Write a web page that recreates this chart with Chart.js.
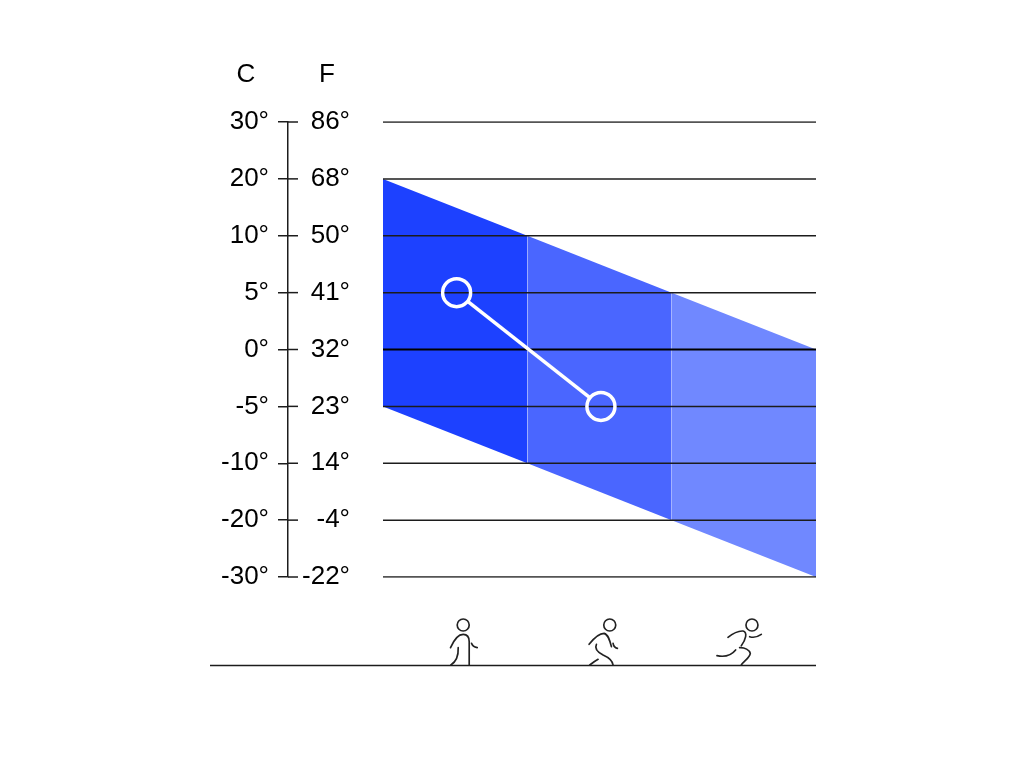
<!DOCTYPE html>
<html><head><meta charset="utf-8">
<style>html,body{margin:0;padding:0;background:#fff}canvas{display:block}</style>
<script src="https://cdn.jsdelivr.net/npm/chart.js@4"></script>
</head><body><canvas id="c" width="1024" height="768"></canvas>
<script>
const celsiusTicks = ['30°','20°','10°','5°','0°','-5°','-10°','-20°','-30°'];
const fahrenheitTicks = ['86°','68°','50°','41°','32°','23°','14°','-4°','-22°'];
const bandX = [0,1,2,3];
const upperC = ['20°','10°','5°','0°'];
const lowerC = ['-5°','-10°','-20°','-30°'];
const bandColors = ['#1d41ff','#4a66ff','#7088ff'];
const rangeX = [0.51,1.51];
const rangeC = ['5°','-5°'];
const figures = [
 {x:0.5,dx:25.3,head:[100,60],d:'M62 128C72 105 85 88 100 88C112 88 118 96 118 110L118 180M125 115C127 122 132 126 142 128M85 128C86 150 78 170 63 180'},
 {x:1.5,dx:29.75,head:[120,60],d:'M58 118C72 100 90 85 103 85C115 88 120 105 125 125M130 115C131 122 135 128 143 130M80 118C74 130 85 142 100 150C118 158 128 165 130 180M60 180C68 174 76 168 85 163'},
 {x:2.5,dx:44.2,head:[157,60],d:'M85 97C100 85 115 77 130 78C145 82 138 105 125 122M150 95C165 100 175 95 185 88M120 128C135 127 150 135 152 145C150 160 132 168 125 180M52 152C72 156 92 155 108 135'}
];

const datasets = [];
bandColors.forEach((color,i)=>{
  const n = datasets.length;
  datasets.push({data:[{x:bandX[i],y:upperC[i]},{x:bandX[i+1],y:upperC[i+1]}],borderWidth:0,pointRadius:0,backgroundColor:color,fill:{target:n+1},order:20,tension:0});
  datasets.push({data:[{x:bandX[i],y:lowerC[i]},{x:bandX[i+1],y:lowerC[i+1]}],borderWidth:0,pointRadius:0,fill:false,order:21,tension:0});
});
celsiusTicks.forEach(t=>{
  datasets.push({data:[{x:bandX[0],y:t},{x:bandX[3],y:t}],borderColor:t==='0°'?'#000':'#1c1c1c',borderWidth:t==='0°'?2.2:1.5,pointRadius:0,fill:false,order:10});
});
datasets.push({cutOut:true,data:rangeX.map((x,i)=>({x,y:rangeC[i]})),borderColor:'#fff',borderWidth:3.5,pointRadius:0,fill:false,order:2});
datasets.push({ringOf:true,data:rangeX.map((x,i)=>({x,y:rangeC[i]})),showLine:false,pointRadius:14,pointBorderWidth:3.5,pointBorderColor:'#fff',pointBackgroundColor:'rgba(0,0,0,0)',fill:false,order:1});

const FONT = '26px "Liberation Sans", Arial, sans-serif';
const cutOutPlugin = {
  id:'cutOut',
  beforeDatasetDraw(chart,args){
    if(!chart.data.datasets[args.index].cutOut) return;
    const ctx=chart.ctx; ctx.save();
    ctx.beginPath(); ctx.rect(0,0,chart.width,chart.height);
    args.meta.data.forEach(p=>{ctx.moveTo(p.x+13,p.y);ctx.arc(p.x,p.y,13,0,Math.PI*2);});
    ctx.clip('evenodd');
  },
  afterDatasetDraw(chart,args){
    if(chart.data.datasets[args.index].cutOut) chart.ctx.restore();
  }
};
const decorPlugin = {
  id:'decor',
  afterDraw(chart){
    const ctx=chart.ctx, y=chart.scales.y, x=chart.scales.x;
    ctx.save();
    ctx.strokeStyle='#1c1c1c'; ctx.lineWidth=1.5;
    const ax=y.right;
    y.ticks.forEach((t,i)=>{const py=y.getPixelForTick(i);ctx.beginPath();ctx.moveTo(ax,py);ctx.lineTo(ax+10,py);ctx.stroke();});
    ctx.fillStyle='#000'; ctx.font=FONT; ctx.textAlign='center'; ctx.textBaseline='middle';
    ctx.fillText('C',246,75); ctx.fillText('F',327,75);
    ctx.strokeStyle='#1c1c1c'; ctx.lineWidth=1.5;
    ctx.beginPath(); ctx.moveTo(210,665.5); ctx.lineTo(x.right,665.5); ctx.stroke();
    ctx.strokeStyle='#222'; ctx.lineCap='round'; ctx.lineJoin='round';
    figures.forEach(f=>{
      const ox=x.getPixelForValue(f.x)-f.dx;
      ctx.save(); ctx.translate(ox,605); ctx.scale(1/3,1/3); ctx.lineWidth=5;
      ctx.beginPath(); ctx.arc(f.head[0],f.head[1],18,0,Math.PI*2); ctx.stroke();
      ctx.stroke(new Path2D(f.d));
      ctx.restore();
    });
    ctx.restore();
  }
};
const tickFont = {family:'"Liberation Sans", Arial, sans-serif',size:26};
new Chart(document.getElementById('c'),{
  type:'line',
  data:{datasets},
  plugins:[cutOutPlugin,decorPlugin],
  options:{
    responsive:false,animation:false,
    layout:{padding:{left:100,top:122,right:208,bottom:191}},
    plugins:{legend:{display:false},tooltip:{enabled:false}},
    elements:{line:{tension:0}},
    scales:{
      x:{type:'linear',display:false,min:0,max:3},
      y:{type:'category',labels:celsiusTicks,position:'left',weight:1,offset:false,
         afterFit(s){s.width=188;},
         border:{display:true,color:'#1c1c1c',width:1.5},
         grid:{drawOnChartArea:false,drawTicks:true,tickLength:10,color:'#1c1c1c',lineWidth:1.5},
         ticks:{autoSkip:false,maxRotation:0,padding:9,color:'#000',font:tickFont}},
      yF:{type:'category',labels:fahrenheitTicks,position:'left',weight:0,offset:false,
         afterFit(s){s.width=95;},
         border:{display:false},
         grid:{display:false,drawTicks:false},
         ticks:{autoSkip:false,maxRotation:0,padding:33,color:'#000',font:tickFont}}
    }
  }
});
</script></body></html>
